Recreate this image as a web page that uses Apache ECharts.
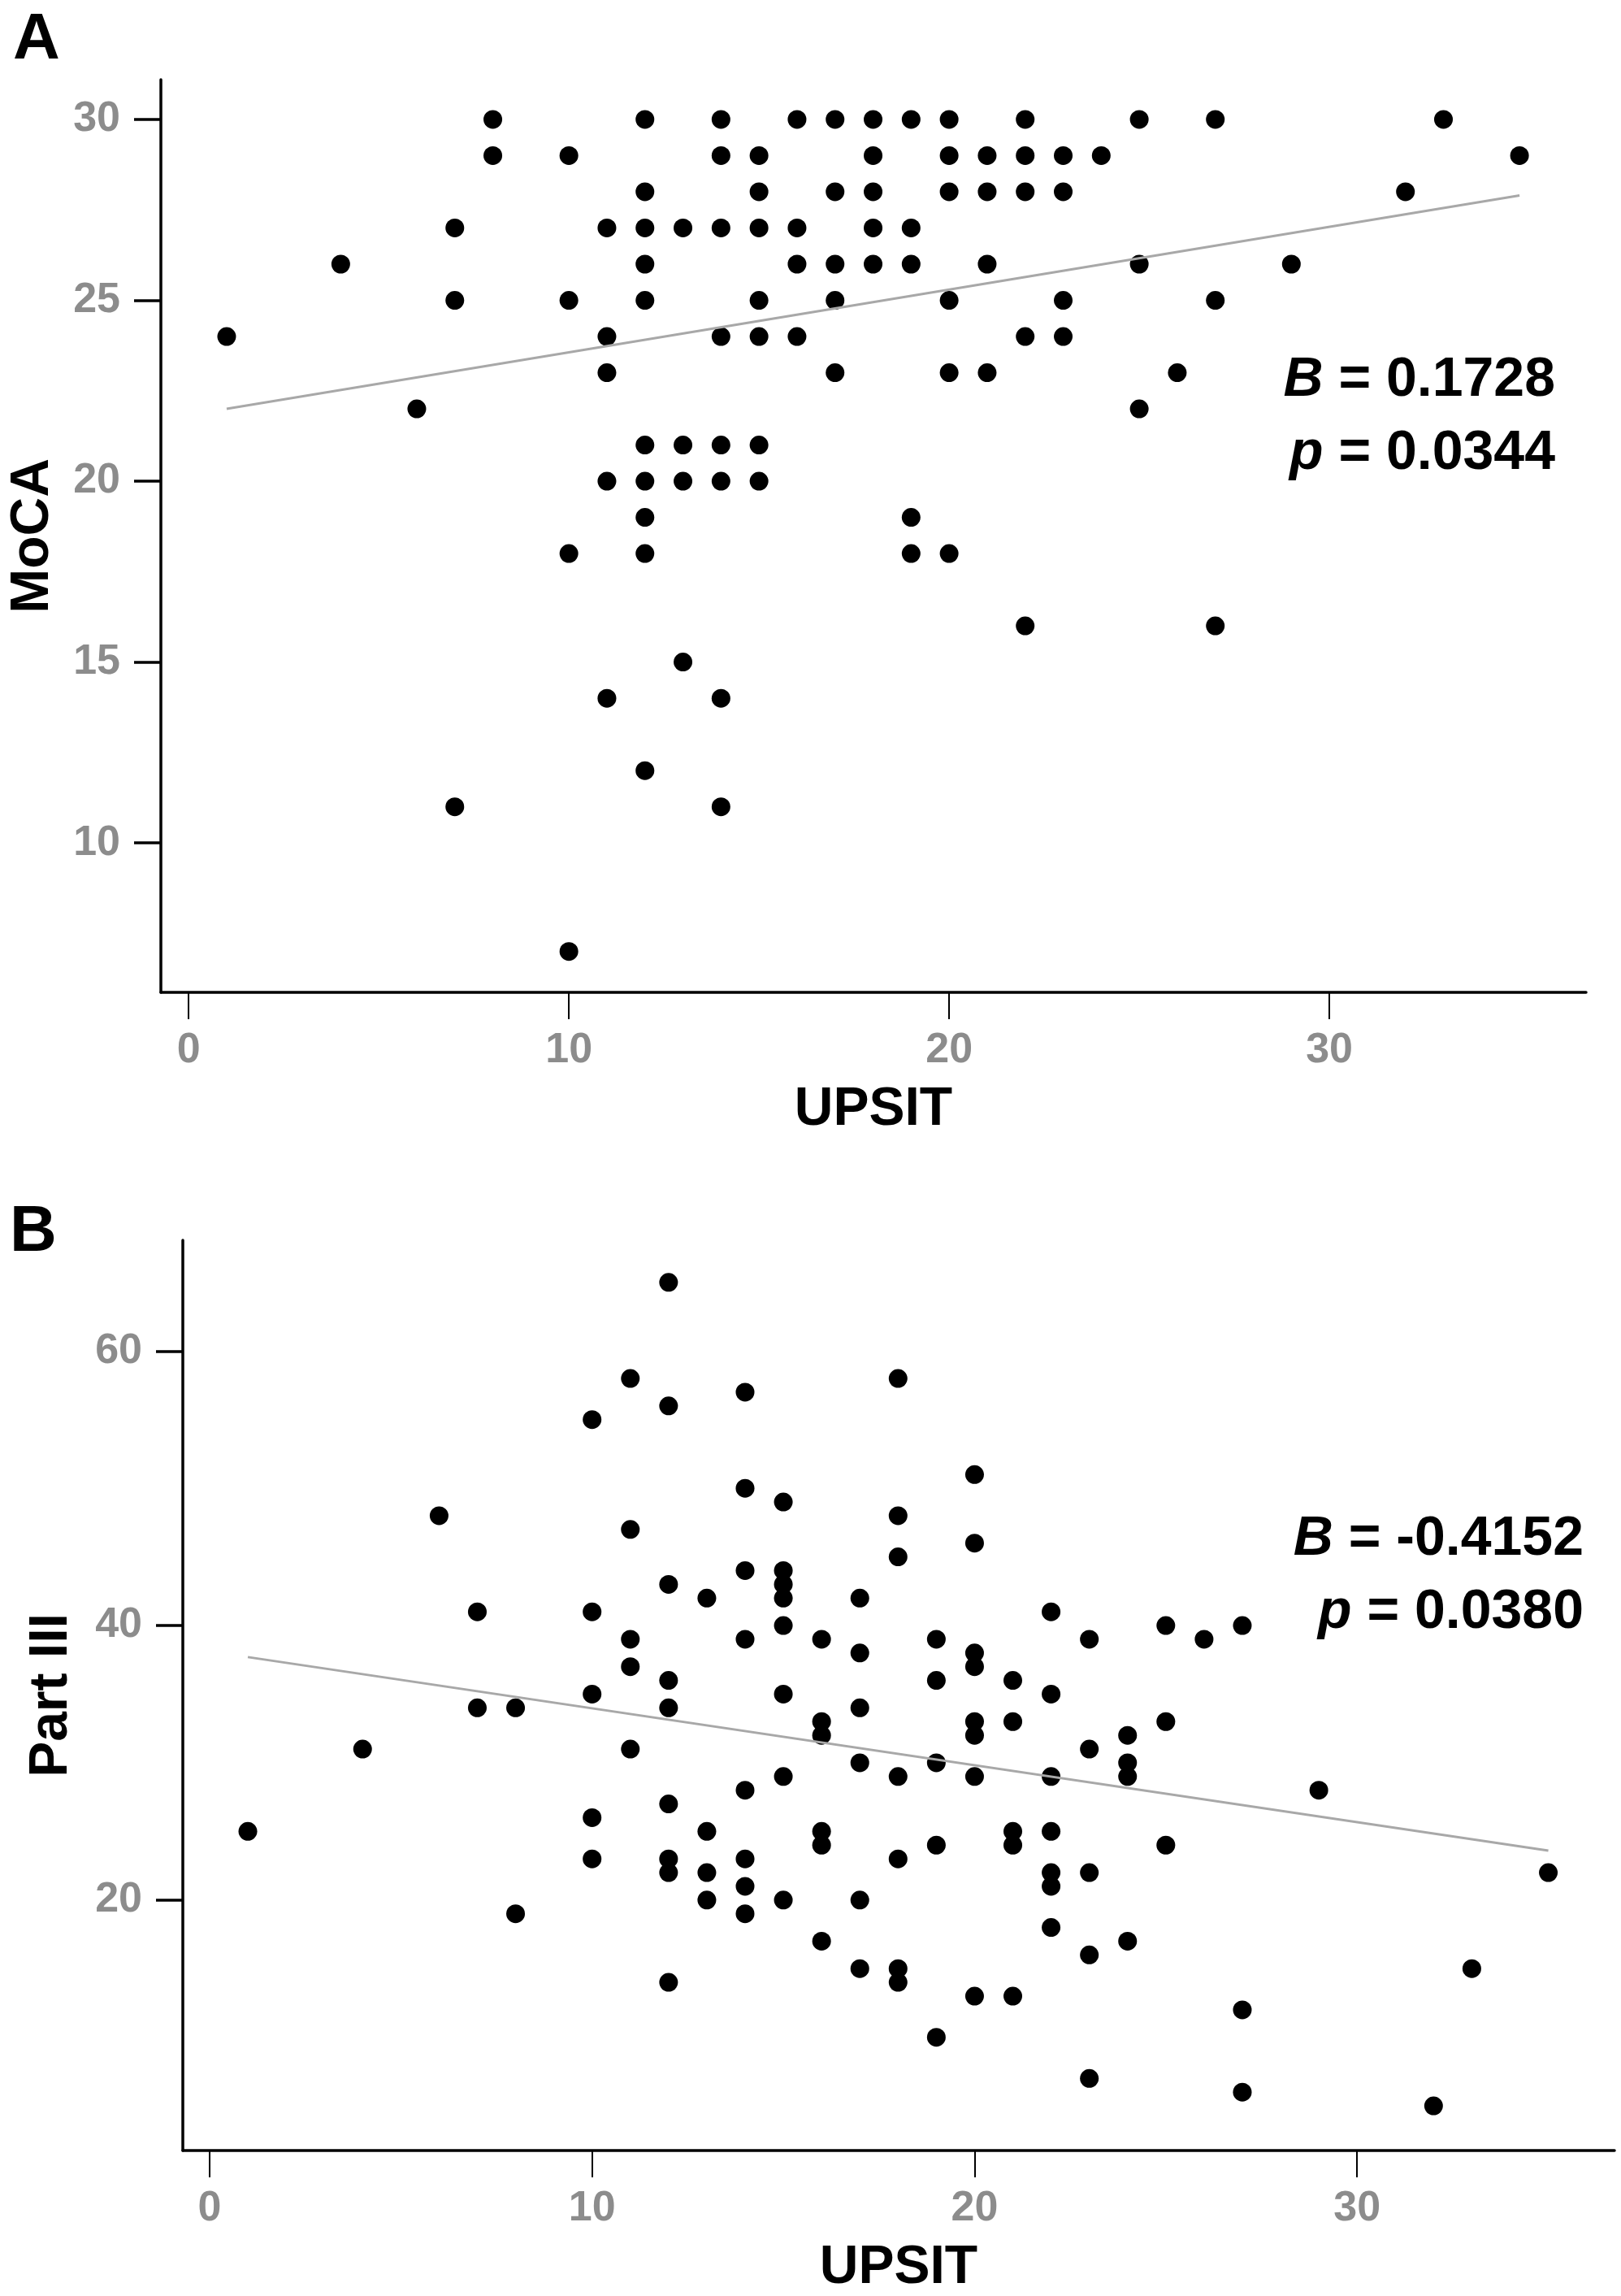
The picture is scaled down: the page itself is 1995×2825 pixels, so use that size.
<!DOCTYPE html>
<html lang="en">
<head>
    <meta charset="UTF-8">
    <title>UPSIT vs MoCA / Part III</title>
    <style>
        * { padding: 0; margin: 0; }
        html, body { width: 100%; height: 100%; background: #fff; }
        #chart { width: 1995px; height: 2825px; }
    </style>
</head>
<body>
    <div id="chart"></div>
    <script src="https://cdn.jsdelivr.net/npm/echarts@6/dist/echarts.min.js"></script>
    <script type="text/javascript">
        // panel A: UPSIT vs MoCA
        const upsitA = [
            1, 4, 6, 7, 7, 7, 8, 8, 10, 10, 10, 10,
            11, 11, 11, 11, 11,
            12, 12, 12, 12, 12, 12, 12, 12, 12, 12,
            13, 13, 13, 13,
            14, 14, 14, 14, 14, 14, 14, 14,
            15, 15, 15, 15, 15, 15, 15,
            16, 16, 16, 16,
            17, 17, 17, 17, 17,
            18, 18, 18, 18, 18,
            19, 19, 19, 19, 19,
            20, 20, 20, 20, 20, 20,
            21, 21, 21, 21,
            22, 22, 22, 22, 22,
            23, 23, 23, 23,
            24, 25, 25, 25, 26, 27, 27, 27, 29, 32, 33, 35
        ];
        const mocaA = [
            24, 26, 22, 27, 25, 11, 30, 29, 29, 25, 18, 7,
            27, 24, 23, 20, 14,
            30, 28, 27, 26, 25, 21, 20, 19, 18, 12,
            27, 21, 20, 15,
            30, 29, 27, 24, 21, 20, 14, 11,
            29, 28, 27, 25, 24, 21, 20,
            30, 27, 26, 24,
            30, 28, 26, 25, 23,
            30, 29, 28, 27, 26,
            30, 27, 26, 19, 18,
            30, 29, 28, 25, 23, 18,
            29, 28, 26, 23,
            30, 29, 28, 24, 16,
            29, 28, 25, 24,
            29, 30, 26, 22, 23, 30, 25, 16, 26, 28, 30, 29
        ];
        const fitA = [[1, 22.0], [35, 27.9]];

        // panel B: UPSIT vs Part III
        const upsitB = [
            1, 4, 6, 7, 7, 8, 8,
            10, 10, 10, 10, 10,
            11, 11, 11, 11, 11,
            12, 12, 12, 12, 12, 12, 12, 12, 12,
            13, 13, 13, 13,
            14, 14, 14, 14, 14, 14, 14, 14,
            15, 15, 15, 15, 15, 15, 15, 15,
            16, 16, 16, 16, 16, 16,
            17, 17, 17, 17, 17, 17,
            18, 18, 18, 18, 18, 18, 18,
            19, 19, 19, 19, 19,
            20, 20, 20, 20, 20, 20, 20, 20,
            21, 21, 21, 21, 21,
            22, 22, 22, 22, 22, 22, 22,
            23, 23, 23, 23, 23,
            24, 24, 24, 24,
            25, 25, 25,
            26, 27, 27, 27, 29, 32, 33, 35
        ];
        const part3B = [
            25, 31, 48, 41, 34, 34, 19,
            55, 41, 35, 26, 23,
            58, 47, 39, 37, 31,
            65, 56, 43, 36, 34, 27, 23, 22, 14,
            42, 25, 22, 20,
            57, 50, 44, 39, 28, 23, 21, 19,
            49, 44, 43, 42, 40, 35, 29, 20,
            39, 33, 32, 25, 24, 17,
            42, 38, 34, 30, 20, 15,
            58, 48, 45, 29, 23, 15, 14,
            39, 36, 30, 24, 10,
            51, 46, 38, 37, 33, 32, 29, 13,
            36, 33, 25, 24, 13,
            41, 35, 29, 25, 22, 21, 18,
            39, 31, 22, 16, 7,
            32, 30, 29, 17,
            40, 33, 24,
            39, 40, 12, 6, 28, 5, 15, 22
        ];
        const fitB = [[1, 37.7], [35, 23.6]];

        const xTicks = [0, 10, 20, 30];
        const yTicksA = [10, 15, 20, 25, 30];
        const yTicksB = [20, 40, 60];

        const FONT = 'Liberation Sans, Arial, sans-serif';
        const pointsA = upsitA.map((x, i) => [x, mocaA[i]]);
        const pointsB = upsitB.map((x, i) => [x, part3B[i]]);

        function xAxisOf(grid, min, max) {
            return {
                type: 'value', gridIndex: grid, min: min, max: max,
                name: 'UPSIT', nameLocation: 'middle', nameGap: 112,
                nameTextStyle: { color: '#000', fontSize: 66, fontWeight: 'bold', fontFamily: FONT },
                axisLine: { show: true, onZero: false, lineStyle: { color: '#000', width: 3.5 } },
                axisTick: { show: true, length: 33, customValues: xTicks, lineStyle: { color: '#000', width: 2 } },
                axisLabel: { customValues: xTicks, margin: 46, color: '#8c8c8c', fontSize: 52, fontWeight: 'bold', fontFamily: FONT },
                splitLine: { show: false }
            };
        }
        function yAxisOf(grid, min, max, name, ticks, gap) {
            return {
                type: 'value', gridIndex: grid, min: min, max: max,
                name: name, nameLocation: 'middle', nameGap: gap,
                nameTextStyle: { color: '#000', fontSize: 66, fontWeight: 'bold', fontFamily: FONT },
                axisLine: { show: true, onZero: false, lineStyle: { color: '#000', width: 3.5 } },
                axisTick: { show: true, length: 33, customValues: ticks, lineStyle: { color: '#000', width: 3.5 } },
                axisLabel: { customValues: ticks, margin: 50, color: '#8c8c8c', fontSize: 52, fontWeight: 'bold', fontFamily: FONT },
                splitLine: { show: false }
            };
        }
        function statText(x, y, letter, value) {
            return {
                type: 'text', x: x, y: y,
                style: {
                    text: '{i|' + letter + '} = ' + value,
                    rich: { i: { fontStyle: 'italic', fontWeight: 'bold', fontSize: 68, fontFamily: FONT, fill: '#000' } },
                    fontSize: 68, fontWeight: 'bold', fontFamily: FONT, fill: '#000',
                    textAlign: 'right', textVerticalAlign: 'middle',
                    align: 'right', verticalAlign: 'middle'
                }
            };
        }
        function panelLetter(x, y, txt) {
            return {
                type: 'text', x: x, y: y,
                style: {
                    text: txt, fontSize: 80, fontWeight: 'bold', fontFamily: FONT, fill: '#000',
                    textAlign: 'left', textVerticalAlign: 'middle', align: 'left', verticalAlign: 'middle'
                }
            };
        }
        function dots(xi, data) {
            return {
                type: 'scatter', xAxisIndex: xi, yAxisIndex: xi, data: data,
                symbol: 'circle', symbolSize: 23,
                itemStyle: { color: '#000', opacity: 1 },
                emphasis: { disabled: true }, silent: true
            };
        }
        function fitLine(xi, data) {
            return {
                type: 'line', xAxisIndex: xi, yAxisIndex: xi, data: data,
                showSymbol: false, lineStyle: { color: '#a8a8a8', width: 3 },
                emphasis: { disabled: true }, silent: true
            };
        }

        const myChart = echarts.init(document.getElementById('chart'), null, { renderer: 'canvas' });
        const option = {
            backgroundColor: '#fff',
            animation: false,
            grid: [
                { left: 188, right: 43, top: 98, bottom: 1604 },
                { left: 225, right: 8, top: 1526, bottom: 176 }
            ],
            xAxis: [xAxisOf(0, -0.73, 36.75), xAxisOf(1, -0.70, 36.73)],
            yAxis: [
                yAxisOf(0, 5.87, 31.1, 'MoCA', yTicksA, 124),
                yAxisOf(1, 1.75, 68.07, 'Part III', yTicksB, 128)
            ],
            series: [
                dots(0, pointsA),
                fitLine(0, fitA),
                dots(1, pointsB),
                fitLine(1, fitB)
            ],
            graphic: [
                panelLetter(16, 50, 'A'),
                panelLetter(12, 1517, 'B'),
                statText(1914, 468, 'B', '0.1728'),
                statText(1914, 558, 'p', '0.0344'),
                statText(1949, 1894, 'B', '-0.4152'),
                statText(1949, 1984, 'p', '0.0380')
            ]
        };
        myChart.setOption(option);
    </script>
</body>
</html>
